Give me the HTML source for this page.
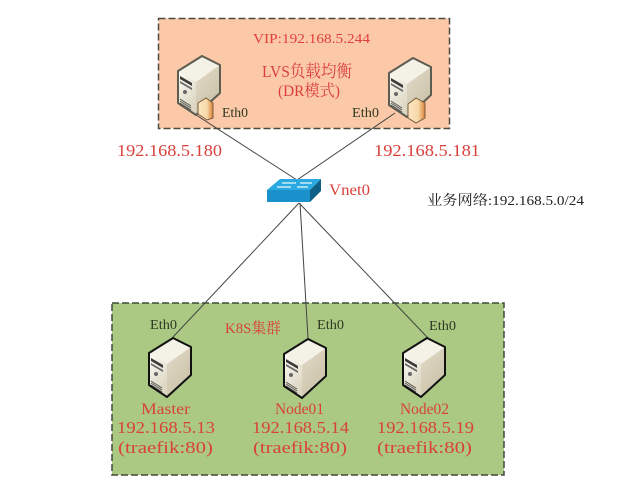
<!DOCTYPE html>
<html><head><meta charset="utf-8">
<style>
html,body{margin:0;padding:0;background:#fff}
svg{display:block;filter:blur(.35px)}
text{font-family:"Liberation Serif","Noto Serif CJK SC",serif;fill:#e0403a}
.v{font-size:14px}
.e{fill:#2d3a22;font-size:14px}
.k{fill:#222;font-size:14px}
.r{fill:#d9413c;font-size:17px}
</style></head><body>
<svg width="640" height="493" viewBox="0 0 640 493" xmlns="http://www.w3.org/2000/svg">
<defs>
<linearGradient id="side" x1="0" y1="0" x2="1" y2="1"><stop offset="0" stop-color="#eee8d8"/><stop offset="1" stop-color="#c6bca2"/></linearGradient>
<linearGradient id="front" x1="0" y1="0" x2="0.5" y2="1"><stop offset="0" stop-color="#fdfcf6"/><stop offset="1" stop-color="#dcd6c2"/></linearGradient>
<linearGradient id="card" x1="0" y1="0" x2="1" y2="0"><stop offset="0" stop-color="#fbe6c2"/><stop offset="0.6" stop-color="#f7d9a8"/><stop offset="1" stop-color="#d9823a"/></linearGradient>
<symbol id="srv" width="44" height="62" viewBox="0 0 44 62" overflow="visible">
<path d="M1 16L25 1L43 10V38L19 60L1 48Z" fill="url(#side)"/>
<path d="M1 16L25 1L43 10L19 27Z" fill="#f4f1e6"/>
<path d="M1 16L19 27V60L1 48Z" fill="url(#front)"/>
<path d="M3 21L15 28V31L3 24Z" fill="#3a3a38"/>
<path d="M3 26L15 33V35L3 28Z" fill="#666"/>
<circle cx="8" cy="37" r="2" fill="#666"/>
<path d="M3 44L14 51M3 46L14 53M3 48L14 55M3 50L14 57" stroke="#555" stroke-width="1"/>
<path d="M1 16L25 1L43 10V38L19 60L1 48Z" fill="none" stroke="currentColor" stroke-width="2" stroke-linejoin="round"/>
</symbol>
</defs>

<rect x="158.500" y="18.500" width="291" height="110" fill="#fcc9a8" stroke="#4a4a42" stroke-width="1.500" stroke-dasharray="7 3"/>
<rect x="112" y="303" width="392" height="172" fill="#abc983" stroke="#3f4a38" stroke-width="1.500" stroke-dasharray="7 3"/>

<g stroke="#444" stroke-width="1" fill="none">
<path d="M193 113L297 180"/>
<path d="M395 113L297 180"/>
<path d="M299 203L173 337"/>
<path d="M300 203L308 338"/>
<path d="M299 203L428 338"/>
</g>

<use href="#srv" x="177" y="55" color="#5c5c50"/>
<path d="M198 103L206 98L213 103V118L207 120L198 114Z" fill="url(#card)" stroke="#7a5a3a" stroke-width="1"/>
<use href="#srv" x="388" y="57" color="#5c5c50"/>
<path d="M408 104L416 98L425 103V118L416 123L408 118Z" fill="url(#card)" stroke="#7a5a3a" stroke-width="1"/>

<use href="#srv" x="148" y="337" color="#111"/>
<use href="#srv" x="283" y="338" color="#111"/>
<use href="#srv" x="402" y="337" color="#111"/>

<!-- switch -->
<path d="M267 190L280 179H321L310 190Z" fill="#2aaae0"/>
<path d="M267 190H310V202H267Z" fill="#1b91cc"/>
<path d="M310 190L321 179V191L310 202Z" fill="#0d5f86"/>
<path d="M277 187H291M282 183H296M297 187H308M300 183H312" stroke="#c9edf8" stroke-width="1.500"/>

<text x="253" y="43" textLength="117" lengthAdjust="spacingAndGlyphs" class="v">VIP:192.168.5.244</text>
<text x="262" y="77" textLength="90" lengthAdjust="spacingAndGlyphs" class="r" style="font-size:17px">LVS负载均衡</text>
<text x="278" y="96" textLength="62" lengthAdjust="spacingAndGlyphs" class="r" style="font-size:16px">(DR模式)</text>
<text x="222" y="117" textLength="26" lengthAdjust="spacingAndGlyphs" class="e">Eth0</text>
<text x="352" y="117" textLength="27" lengthAdjust="spacingAndGlyphs" class="e">Eth0</text>
<text x="117" y="156" textLength="105" lengthAdjust="spacingAndGlyphs" class="r">192.168.5.180</text>
<text x="374" y="156" textLength="106" lengthAdjust="spacingAndGlyphs" class="r">192.168.5.181</text>
<text x="329" y="195" textLength="41" lengthAdjust="spacingAndGlyphs" class="r" style="font-size:16px">Vnet0</text>
<text x="427" y="205" textLength="157" lengthAdjust="spacingAndGlyphs" class="k">业务网络:192.168.5.0/24</text>

<text x="225" y="333" textLength="56" lengthAdjust="spacingAndGlyphs" class="r" style="font-size:15px">K8S集群</text>
<text x="150" y="329" textLength="27" lengthAdjust="spacingAndGlyphs" class="e">Eth0</text>
<text x="317" y="329" textLength="27" lengthAdjust="spacingAndGlyphs" class="e">Eth0</text>
<text x="429" y="330" textLength="27" lengthAdjust="spacingAndGlyphs" class="e">Eth0</text>

<text x="141" y="414" textLength="49" lengthAdjust="spacingAndGlyphs" class="r" style="font-size:16px">Master</text>
<text x="117" y="433" textLength="98" lengthAdjust="spacingAndGlyphs" class="r">192.168.5.13</text>
<text x="118" y="453" textLength="95" lengthAdjust="spacingAndGlyphs" class="r">(traefik:80)</text>
<text x="275" y="414" textLength="49" lengthAdjust="spacingAndGlyphs" class="r" style="font-size:16px">Node01</text>
<text x="252" y="433" textLength="97" lengthAdjust="spacingAndGlyphs" class="r">192.168.5.14</text>
<text x="253" y="453" textLength="94" lengthAdjust="spacingAndGlyphs" class="r">(traefik:80)</text>
<text x="400" y="414" textLength="49" lengthAdjust="spacingAndGlyphs" class="r" style="font-size:16px">Node02</text>
<text x="377" y="433" textLength="97" lengthAdjust="spacingAndGlyphs" class="r">192.168.5.19</text>
<text x="377" y="453" textLength="95" lengthAdjust="spacingAndGlyphs" class="r">(traefik:80)</text>
</svg>
</body></html>
